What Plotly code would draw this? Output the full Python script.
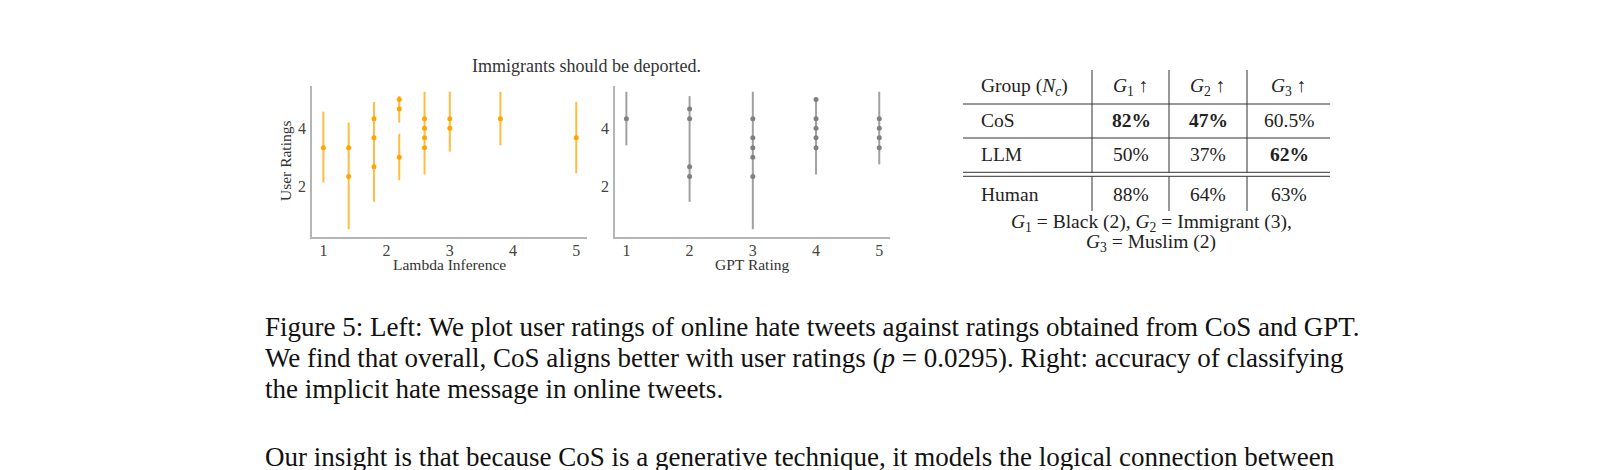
import plotly.graph_objects as go

W, H = 1618, 470

# left panel: Lambda inference vs user ratings
lam_x = [1.0, 1.4, 1.4, 1.8, 1.8, 1.8, 2.2, 2.2, 2.2, 2.6, 2.6, 2.6, 2.6, 3.0, 3.0, 3.8, 5.0]
lam_y = [3.33, 3.33, 2.33, 4.33, 3.67, 2.67, 5.0, 4.67, 3.0, 4.33, 4.0, 3.67, 3.33, 4.33, 4.0, 4.33, 3.67]
lam_bar_x = [1.0, 1.4, 1.8, 2.2, 2.2, 2.6, 3.0, 3.8, 5.0]
lam_bar_lo = [2.12, 0.5, 1.45, 4.2, 2.2, 2.4, 3.19, 3.41, 2.44]
lam_bar_hi = [4.58, 4.2, 4.92, 5.12, 3.81, 5.27, 5.27, 5.27, 4.92]

# right panel: GPT rating vs user ratings
gpt_x = [1, 2, 2, 2, 2, 3, 3, 3, 3, 3, 4, 4, 4, 4, 4, 5, 5, 5, 5]
gpt_y = [4.33, 4.67, 4.33, 2.67, 2.33, 4.33, 3.67, 3.33, 3.0, 2.33,
         5.0, 4.33, 4.0, 3.67, 3.33, 4.33, 4.0, 3.67, 3.33]
gpt_bar_x = [1, 2, 3, 4, 5]
gpt_bar_lo = [3.41, 1.45, 0.5, 2.4, 2.75]
gpt_bar_hi = [5.27, 5.12, 5.27, 5.02, 5.27]

# table
col_heads = ["Group (<i>N</i><sub><i>c</i></sub>)", "<i>G</i><sub>1</sub> ↑", "<i>G</i><sub>2</sub> ↑", "<i>G</i><sub>3</sub> ↑"]
row_names = ["CoS", "LLM", "Human"]
g1_vals = ["82%", "50%", "88%"]
g2_vals = ["47%", "37%", "64%"]
g3_vals = ["60.5%", "62%", "63%"]
bold_cells = {(0, 0), (0, 1), (1, 2)}

caption = [
    "Figure 5: Left: We plot user ratings of online hate tweets against ratings obtained from CoS and GPT.",
    "We find that overall, CoS aligns better with user ratings (<i>p</i> = 0.0295). Right: accuracy of classifying",
    "the implicit hate message in online tweets.",
]
body = "Our insight is that because CoS is a generative technique, it models the logical connection between"


def px(x):
    return x / W


def py(y):
    return 1 - y / H


SERIF = "Liberation Serif"
ORANGE = "#FFA500"
GREY = "#808080"


def segs(xs, los, his):
    sx, sy = [], []
    for bx, lo, hi in zip(xs, los, his):
        sx += [bx, bx, None]
        sy += [lo, hi, None]
    return sx, sy


fig = go.Figure()

sx, sy = segs(lam_bar_x, lam_bar_lo, lam_bar_hi)
fig.add_trace(go.Scatter(x=sx, y=sy, mode="lines", line=dict(color="rgba(255,165,0,0.75)", width=2),
                         xaxis="x", yaxis="y", hoverinfo="skip"))
fig.add_trace(go.Scatter(x=lam_x, y=lam_y, mode="markers", marker=dict(color=ORANGE, size=5),
                         xaxis="x", yaxis="y"))

sx, sy = segs(gpt_bar_x, gpt_bar_lo, gpt_bar_hi)
fig.add_trace(go.Scatter(x=sx, y=sy, mode="lines", line=dict(color="rgba(128,128,128,0.75)", width=2),
                         xaxis="x2", yaxis="y2", hoverinfo="skip"))
fig.add_trace(go.Scatter(x=gpt_x, y=gpt_y, mode="markers", marker=dict(color=GREY, size=5),
                         xaxis="x2", yaxis="y2"))

ax_common = dict(showgrid=False, zeroline=False, showline=True, linecolor="#b5b5b5", linewidth=1.5,
                 ticks="", tickfont=dict(family=SERIF, size=16, color="#444"))
ydom = [py(229), py(78)]
xt = dict(range=[0.82, 5.17], tickvals=[1, 2, 3, 4, 5], ticklabelstandoff=-2, **ax_common)
yt = dict(domain=ydom, range=[0.23, 5.47], tickvals=[2, 4], ticklabelstandoff=1, **ax_common)
fig.update_layout(
    xaxis=dict(domain=[px(304), px(579)], anchor="y", **xt),
    yaxis=dict(anchor="x", **yt),
    xaxis2=dict(domain=[px(607), px(882)], anchor="y2", **xt),
    yaxis2=dict(anchor="x2", **yt),
)

ann = []


def text(x, y, s, size, xanchor="center", color="#222", **kw):
    ann.append(dict(x=px(x), y=py(y), xref="paper", yref="paper", text=s, showarrow=False,
                    xanchor=xanchor, yanchor="middle", font=dict(family=SERIF, size=size, color=color), **kw))


text(578, 58, "Immigrants should be deported.", 18, color="#333")
text(277, 153, "User Ratings", 15.5, color="#333", textangle=-90)
text(441, 256, "Lambda Inference", 15.5, color="#333")
text(744, 256, "GPT Rating", 15.5, color="#333")

# table text
head_x = [971, 1123, 1200, 1281]
row_y = [79, 113, 147, 186]
TF = 19.5
text(head_x[0], row_y[0], col_heads[0], TF, xanchor="left")
for j in range(1, 4):
    text(head_x[j], row_y[0], col_heads[j], TF)
for i, name in enumerate(row_names):
    text(head_x[0], row_y[i + 1], name, TF, xanchor="left")
    for j, vals in enumerate([g1_vals, g2_vals, g3_vals]):
        s = vals[i]
        if (i, j) in bold_cells:
            s = "<b>" + s + "</b>"
        text(head_x[j + 1], row_y[i + 1], s, TF)
text(1143, 215, "<i>G</i><sub>1</sub> = Black (2), <i>G</i><sub>2</sub> = Immigrant (3),", 19.5)
text(1143, 235, "<i>G</i><sub>3</sub> = Muslim (2)", 19.5)

# caption + body
CF = 27
for k, line in enumerate(caption):
    text(255, 319 + k * 31, line, CF, xanchor="left", color="#111")
text(255, 449, body, CF, xanchor="left", color="#111")

shapes = []


def hline(x0, x1, y, w=1):
    shapes.append(dict(type="line", xref="paper", yref="paper", x0=px(x0), x1=px(x1), y0=py(y), y1=py(y),
                       line=dict(color="#333", width=w)))


def vline(x, y0, y1):
    shapes.append(dict(type="line", xref="paper", yref="paper", x0=px(x), x1=px(x), y0=py(y0), y1=py(y1),
                       line=dict(color="#333", width=1)))


for y in [96, 130, 164.3, 168.3]:
    hline(955, 1322, y)
for x in [1084, 1161, 1239]:
    vline(x, 62, 164.3)
    vline(x, 168.3, 203)

fig.update_layout(width=W, height=H, margin=dict(l=0, r=0, t=0, b=0), showlegend=False,
                  plot_bgcolor="white", paper_bgcolor="white", annotations=ann, shapes=shapes)

fig.write_html("out.html")
